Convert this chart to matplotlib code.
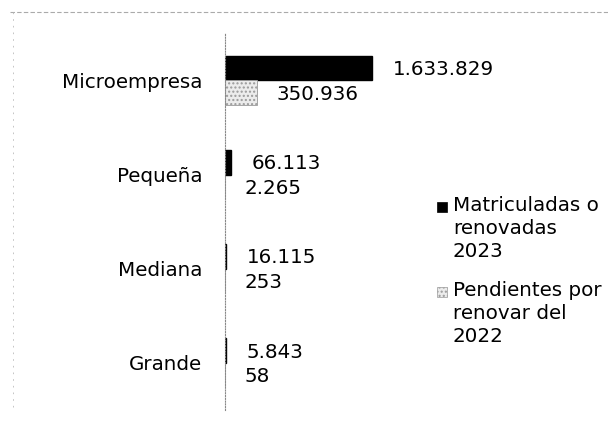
import matplotlib
matplotlib.use("Agg")
import matplotlib.pyplot as plt
from matplotlib.patches import Rectangle
from matplotlib.lines import Line2D

categories = ["Microempresa", "Pequeña", "Mediana", "Grande"]
matriculadas_2023 = [1633829, 66113, 16115, 5843]
pendientes_2022 = [350936, 2265, 253, 58]
series_names = ["Matriculadas o\nrenovadas\n2023", "Pendientes por\nrenovar del\n2022"]

def fmt(v):
    return f"{v:,}".replace(",", ".")

W, H = 608, 424
fig = plt.figure(figsize=(W / 100, H / 100), dpi=100)
plt.rcParams['font.family'] = ['DejaVu Sans']
FS = 14.3

# axes in pixel coordinates
ax_left, ax_right = 225, 445
ax_top, ax_bottom = 33.4, 410
ax = fig.add_axes([ax_left / W, 1 - ax_bottom / H, (ax_right - ax_left) / W, (ax_bottom - ax_top) / H])
ax.set_xlim(0, max(matriculadas_2023) * (ax_right - ax_left) / 147)
ax.set_ylim(3.5, -0.5)

h = 0.26
ys = list(range(len(categories)))
ax.barh([y - h / 2 for y in ys], matriculadas_2023, height=h, color="black", edgecolor="black")
ax.barh([y + h / 2 for y in ys], pendientes_2022, height=h, color="#ececec",
        edgecolor="#9a9a9a", hatch="....", linewidth=0.6)

for y, v in zip(ys, matriculadas_2023):
    ax.annotate(fmt(v), (v, y - h / 2), xytext=(15, -1), textcoords="offset points",
                va="center", ha="left", fontsize=FS)
for y, v in zip(ys, pendientes_2022):
    ax.annotate(fmt(v), (v, y + h / 2), xytext=(14, -1), textcoords="offset points",
                va="center", ha="left", fontsize=FS)

ax.set_yticks(ys)
ax.set_yticklabels(categories, fontsize=FS)
ax.tick_params(axis="y", length=0, pad=16.5)
ax.set_xticks([])
for s in ["top", "right", "bottom"]:
    ax.spines[s].set_visible(False)
ax.spines["left"].set_color("#888888")
ax.spines["left"].set_linestyle((0, (1, 1.5)))
ax.spines["left"].set_linewidth(0.8)

# chart border artifacts (faint dotted)
fig.add_artist(Line2D([10 / W, 1], [1 - 12 / H, 1 - 12 / H], color="#aaaaaa", lw=0.8,
                      linestyle=(0, (4, 2))))
fig.add_artist(Line2D([13 / W, 13 / W], [1 - 12 / H, 1 - 412 / H], color="#bbbbbb", lw=0.6,
                      linestyle=(0, (2, 6))))

# legend (manual, marker aligned with first line)
leg_x = 437
leg_y = [207, 292]
colors = ["black", "#ececec"]
hatches = [None, "...."]
for name, yy, c, ht in zip(series_names, leg_y, colors, hatches):
    fig.add_artist(Rectangle(((leg_x) / W, 1 - (yy + 5) / H), 10 / W, 10 / H,
                             facecolor=c, edgecolor="black" if ht is None else "#9a9a9a",
                             hatch=ht, lw=0.5, transform=fig.transFigure))
    fig.text((leg_x + 16) / W, 1 - (yy - 11) / H, name, fontsize=FS, va="top", ha="left",
             linespacing=1.27)

fig.savefig("out.png", dpi=100)
